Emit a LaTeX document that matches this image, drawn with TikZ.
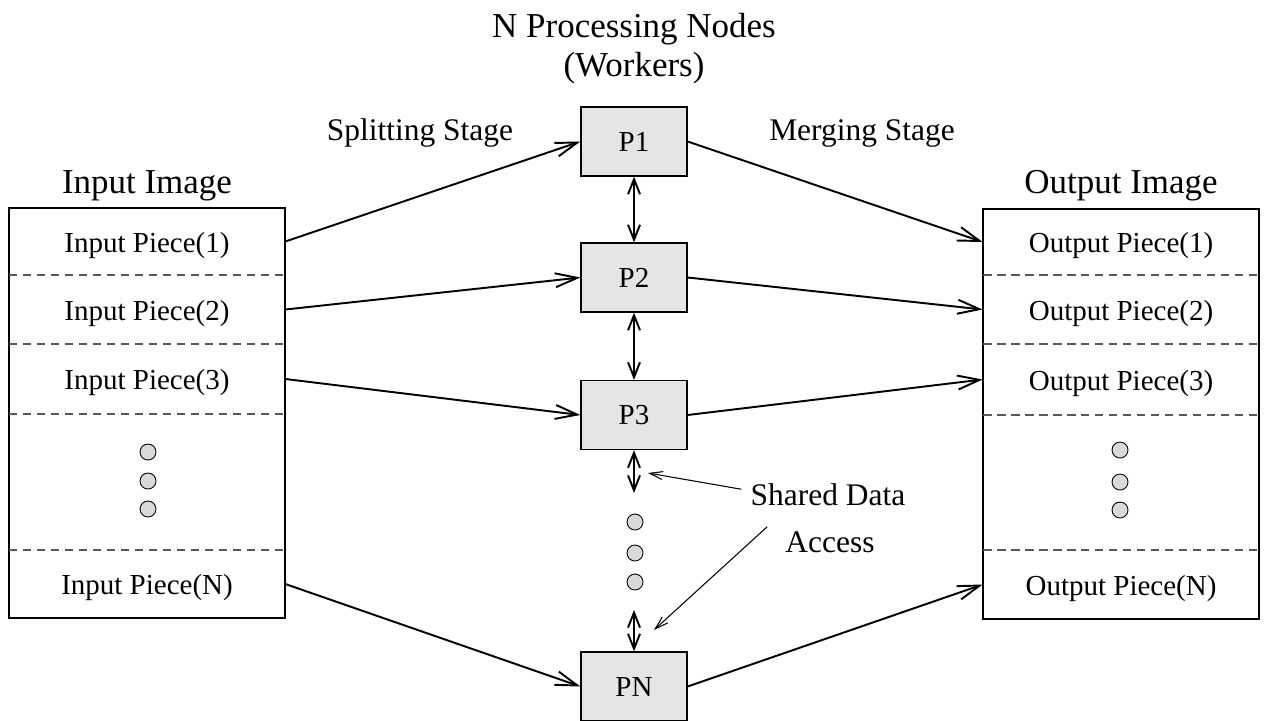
\documentclass[tikz,border=0pt]{standalone}
\usepackage{fontspec}
\setmainfont{Liberation Serif}
\usetikzlibrary{arrows.meta}
\begin{document}
\begin{tikzpicture}[x=0.02cm,y=-0.02cm,
  boxline/.style={draw=black, line width=0.75pt},
  proc/.style={boxline, fill=gray!20, minimum width=2.12cm, minimum height=1.38cm,
    inner sep=0pt, font=\fontsize{16.5}{19}\selectfont},
  piece/.style={minimum width=5.52cm, inner sep=0pt, font=\fontsize{16.5}{19}\selectfont,
    text height=1.45em, text depth=0.25em},
  frame/.style={boxline, minimum width=5.52cm, minimum height=8.2cm, inner sep=0pt},
  sep/.style={draw=black!65, line width=0.6pt, dash pattern=on 0.17cm off 0.11cm},
  dot/.style={draw=black, fill=gray!30, line width=0.5pt},
  title/.style={font=\fontsize{19.9}{24}\selectfont, anchor=base, inner sep=0pt},
  stage/.style={font=\fontsize{17.9}{21}\selectfont, anchor=base, inner sep=0pt},
  flow/.style={line width=1.1pt, -{Straight Barb[length=0.44cm,width=0.28cm]}},
  dbl/.style={line width=1.1pt, {Straight Barb[length=0.3cm,width=0.24cm]}-{Straight Barb[length=0.3cm,width=0.24cm]}},
  lead/.style={line width=0.6pt, -{Straight Barb[length=0.26cm,width=0.16cm]}},
]
\useasboundingbox (0,0) rectangle (1266,720);

% titles
\node[title] (ttl1) at (634,37) {N Processing Nodes};
\node[title] (ttl2) at (634,76) {(Workers)};
\node[stage] (split) at (420,140) {Splitting Stage};
\node[stage] (merge) at (862,140) {Merging Stage};
\node[title] (inttl) at (147,193) {Input Image};
\node[title] (outttl) at (1121,193) {Output Image};

% input image
\node[frame] (inbox) at (147,413) {};
\draw[sep] (9,275) -- (285,275);
\draw[sep] (9,344) -- (285,344);
\draw[sep] (9,414) -- (285,414);
\draw[sep] (9,550) -- (285,550);
\node[piece] (in1) at (147,241.5) {Input Piece(1)};
\node[piece] (in2) at (147,309.5) {Input Piece(2)};
\node[piece] (in3) at (147,379) {Input Piece(3)};
\node[piece] (inN) at (147,584) {Input Piece(N)};
\foreach \yy in {452,481,509} \draw[dot] (148,\yy) circle[radius=0.16cm];

% output image
\node[frame] (outbox) at (1121,414) {};
\draw[sep] (983,275) -- (1259,275);
\draw[sep] (983,344) -- (1259,344);
\draw[sep] (983,415) -- (1259,415);
\draw[sep] (983,550) -- (1259,550);
\node[piece] (out1) at (1121,242) {Output Piece(1)};
\node[piece] (out2) at (1121,309.5) {Output Piece(2)};
\node[piece] (out3) at (1121,379.5) {Output Piece(3)};
\node[piece] (outN) at (1121,584.5) {Output Piece(N)};
\foreach \yy in {450,482,510} \draw[dot] (1120,\yy) circle[radius=0.16cm];

% processing nodes
\node[proc] (P1) at (634,141.5) {P1};
\node[proc] (P2) at (634,277.5) {P2};
\node[proc] (P3) at (634,415) {P3};
\node[proc] (PN) at (634,686.5) {PN};
\foreach \yy in {522,553,582} \draw[dot] (635,\yy) circle[radius=0.16cm];

% shared data links
\coordinate (a1) at (634,493);
\coordinate (a2) at (634,610);
\draw[dbl] (P1.south) -- (P2.north);
\draw[dbl] (P2.south) -- (P3.north);
\draw[dbl] (P3.south) -- (a1);
\draw[dbl] (a2) -- (PN.north);

\node[stage] (sd1) at (828,505) {Shared Data};
\node[stage] (sd2) at (830,552) {Access};
\coordinate (t1) at (648,473);
\coordinate (t2) at (654,630);
\draw[lead] ([xshift=-0.18cm,yshift=0.1cm]sd1.west) -- (t1);
\draw[lead] ([xshift=-0.36cm,yshift=0.3cm]sd2.west) -- (t2);

% splitting
\draw[flow] (in1.east) -- (P1.west);
\draw[flow] (in2.east) -- (P2.west);
\draw[flow] (in3.east) -- (P3.west);
\draw[flow] (inN.east) -- (PN.west);

% merging
\draw[flow] (P1.east) -- (out1.west);
\draw[flow] (P2.east) -- (out2.west);
\draw[flow] (P3.east) -- (out3.west);
\draw[flow] (PN.east) -- (outN.west);
\end{tikzpicture}
\end{document}
